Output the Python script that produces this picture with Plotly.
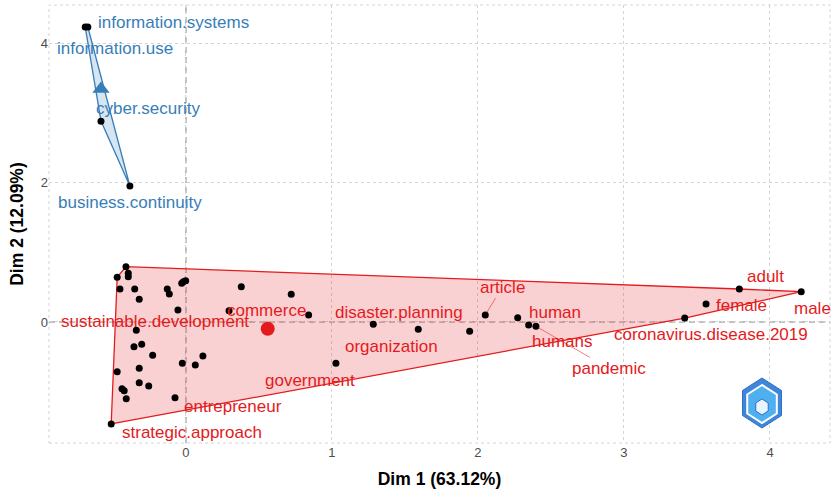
import plotly.graph_objects as go

# ---------------- data ----------------
blue_labels = ["information.systems", "information.use", "cyber.security", "business.continuity"]
blue_x = [-0.690, -0.672, -0.582, -0.384]
blue_y = [4.23, 4.23, 2.88, 1.95]
blue_center_x = [-0.582]
blue_center_y = [3.34]

red_labels = ["sustainable.development", "commerce", "disaster.planning", "organization",
              "government", "entrepreneur", "strategic.approach", "article", "human",
              "humans", "pandemic", "adult", "female", "male", "coronavirus.disease.2019"]
red_x = [-0.340, 0.295, 1.283, 1.591, 1.027, -0.075, -0.512, 2.050, 2.272,
         2.347, 2.397, 3.790, 3.562, 4.214, 3.416]
red_y = [-0.119, 0.162, -0.033, -0.105, -0.592, -1.085, -1.462, 0.100, 0.062,
         -0.043, -0.062, 0.473, 0.258, 0.434, 0.057]

# red-cluster points whose labels were hidden (overlaps)
red_other_x = [-0.411, -0.471, -0.395, -0.395, -0.452, -0.351, -0.320, -0.128, -0.114, -0.029,
               -0.018, -0.002, -0.055, 0.379, 0.721, 0.840, -0.356, -0.303, -0.228, -0.471,
               -0.320, -0.025, 0.064, 0.116, -0.438, -0.423, -0.409, -0.320, -0.255, 1.943]
red_other_y = [0.793, 0.641, 0.698, 0.649, 0.473, 0.473, 0.325, 0.473, 0.401, 0.555,
               0.578, 0.592, 0.172, 0.506, 0.397, 0.100, -0.354, -0.320, -0.477, -0.713,
               -0.664, -0.592, -0.616, -0.487, -0.956, -0.985, -1.100, -0.870, -0.918, -0.133]
red_center_x = [0.56]
red_center_y = [-0.096]

x_ticks = [0, 1, 2, 3, 4]
y_ticks = [0, 2, 4]
x_title = "Dim 1 (63.12%)"
y_title = "Dim 2 (12.09%)"

# ---------------- styles / label placement (pixels) ----------------
RED = "#E41A1C"
BLUE = "#377EB8"
FONT = "Liberation Sans, Arial, sans-serif"

label_offsets = {
    "information.systems": (88, -4), "information.use": (27, 22),
    "cyber.security": (47, -13), "business.continuity": (0, 17),
    "sustainable.development": (19, -9), "commerce": (37, 0),
    "disaster.planning": (26, -12), "organization": (-27, 17),
    "government": (-26, 17), "entrepreneur": (58, 9),
    "strategic.approach": (81, 9), "article": (17, -28),
    "human": (37, -5), "humans": (33, 17), "pandemic": (73, 42),
    "adult": (26, -13), "female": (35, 1), "male": (11, 17),
    "coronavirus.disease.2019": (26, 16),
}
with_segment = {"article", "pandemic"}


def convex_hull(xs, ys):
    pts = sorted(set(zip(xs, ys)))
    if len(pts) <= 2:
        return pts

    def cross(o, a, b):
        return (a[0] - o[0]) * (b[1] - o[1]) - (a[1] - o[1]) * (b[0] - o[0])

    lower, upper = [], []
    for p in pts:
        while len(lower) >= 2 and cross(lower[-2], lower[-1], p) <= 0:
            lower.pop()
        lower.append(p)
    for p in reversed(pts):
        while len(upper) >= 2 and cross(upper[-2], upper[-1], p) <= 0:
            upper.pop()
        upper.append(p)
    return lower[:-1] + upper[:-1]


fig = go.Figure()

# hulls
for xs, ys, col, fill in [
    (red_x + red_other_x, red_y + red_other_y, RED, "rgba(228,26,28,0.2)"),
    (blue_x, blue_y, BLUE, "rgba(55,126,184,0.2)"),
]:
    h = convex_hull(xs, ys)
    hx = [p[0] for p in h] + [h[0][0]]
    hy = [p[1] for p in h] + [h[0][1]]
    fig.add_trace(go.Scatter(x=hx, y=hy, mode="lines", fill="toself", fillcolor=fill,
                             line=dict(color=col, width=1.3), hoverinfo="skip", showlegend=False))

# points
fig.add_trace(go.Scatter(x=red_x + red_other_x + blue_x, y=red_y + red_other_y + blue_y,
                         mode="markers", marker=dict(color="black", size=7),
                         showlegend=False))
# centers
fig.add_trace(go.Scatter(x=red_center_x, y=red_center_y, mode="markers",
                         marker=dict(color=RED, size=14, symbol="circle"), showlegend=False))
fig.add_trace(go.Scatter(x=blue_center_x, y=blue_center_y, mode="markers",
                         marker=dict(color=BLUE, size=15, symbol="triangle-up"), showlegend=False))

# labels
annotations = []
for labels, xs, ys, col in [(blue_labels, blue_x, blue_y, BLUE), (red_labels, red_x, red_y, RED)]:
    for lab, x, y in zip(labels, xs, ys):
        dx, dy = label_offsets[lab]
        if lab in with_segment:
            annotations.append(dict(x=x, y=y, xref="x", yref="y", text=lab, showarrow=True,
                                    ax=dx, ay=dy, arrowhead=0, arrowwidth=1,
                                    arrowcolor="rgba(228,26,28,0.55)", standoff=3,
                                    font=dict(family=FONT, size=17, color=col)))
        else:
            annotations.append(dict(x=x, y=y, xref="x", yref="y", text=lab, showarrow=False,
                                    xshift=dx, yshift=-dy,
                                    font=dict(family=FONT, size=17, color=col)))

# panel geometry in pixels for decorations
L, R, T, B = 49, 830, 5, 443


def px2paper(px, py):
    return (px - L) / (R - L), (B - py) / (B - T)


GRID = "#D4D4D4"
shapes = [
    dict(type="rect", xref="paper", yref="paper", x0=0, x1=1, y0=0, y1=1,
         line=dict(color=GRID, width=1, dash="3px,3px"), layer="below"),
    dict(type="line", xref="x", yref="paper", x0=0, x1=0, y0=0, y1=1,
         line=dict(color="#808080", width=1, dash="6px,4px"), layer="below"),
    dict(type="line", xref="paper", yref="y", x0=0, x1=1, y0=0, y1=0,
         line=dict(color="#808080", width=1, dash="6px,4px"), layer="below"),
]

# small hexagon watermark (decoration)
def hexpath(cx, cy, r):
    import math
    pts = []
    for k in range(6):
        a = math.radians(90 + 60 * k)
        pts.append(px2paper(cx + r * math.cos(a) * 0.9, cy - r * math.sin(a)))
    return "M " + " L ".join(f"{p[0]:.4f},{p[1]:.4f}" for p in pts) + " Z"

shapes.append(dict(type="path", xref="paper", yref="paper", path=hexpath(762, 403, 25),
                   fillcolor="#3F86DA", line=dict(color="#2F6FC8", width=1), layer="above"))
shapes.append(dict(type="path", xref="paper", yref="paper", path=hexpath(762, 404, 19),
                   fillcolor="#4FB0F0", line=dict(color="white", width=2), layer="above"))
shapes.append(dict(type="path", xref="paper", yref="paper", path=hexpath(762, 407, 8),
                   fillcolor="#E8F4FF", line=dict(color="#2F6FC8", width=1), layer="above"))

fig.update_layout(
    width=833, height=491,
    margin=dict(l=L, r=833 - R, t=T, b=491 - B),
    paper_bgcolor="white", plot_bgcolor="white",
    font=dict(family=FONT),
    annotations=annotations, shapes=shapes,
    xaxis=dict(range=[-0.938, 4.411], tickvals=x_ticks, showgrid=True, gridcolor=GRID,
               griddash="3px,3px", gridwidth=1, zeroline=False, showline=False, ticks="",
               tickfont=dict(size=13, color="#4D4D4D"),
               title=dict(text=f"<b>{x_title}</b>", font=dict(size=17.5, color="black"), standoff=13)),
    yaxis=dict(range=[-1.735, 4.545], tickvals=y_ticks, showgrid=True, gridcolor=GRID,
               griddash="3px,3px", gridwidth=1, zeroline=False, showline=False, ticks="",
               tickfont=dict(size=13, color="#4D4D4D"),
               title=dict(text=f"<b>{y_title}</b>", font=dict(size=17.5, color="black"), standoff=12)),
)

fig.write_html("out.html", config={"displayModeBar": False},
               post_script="document.body.style.margin='0';")
